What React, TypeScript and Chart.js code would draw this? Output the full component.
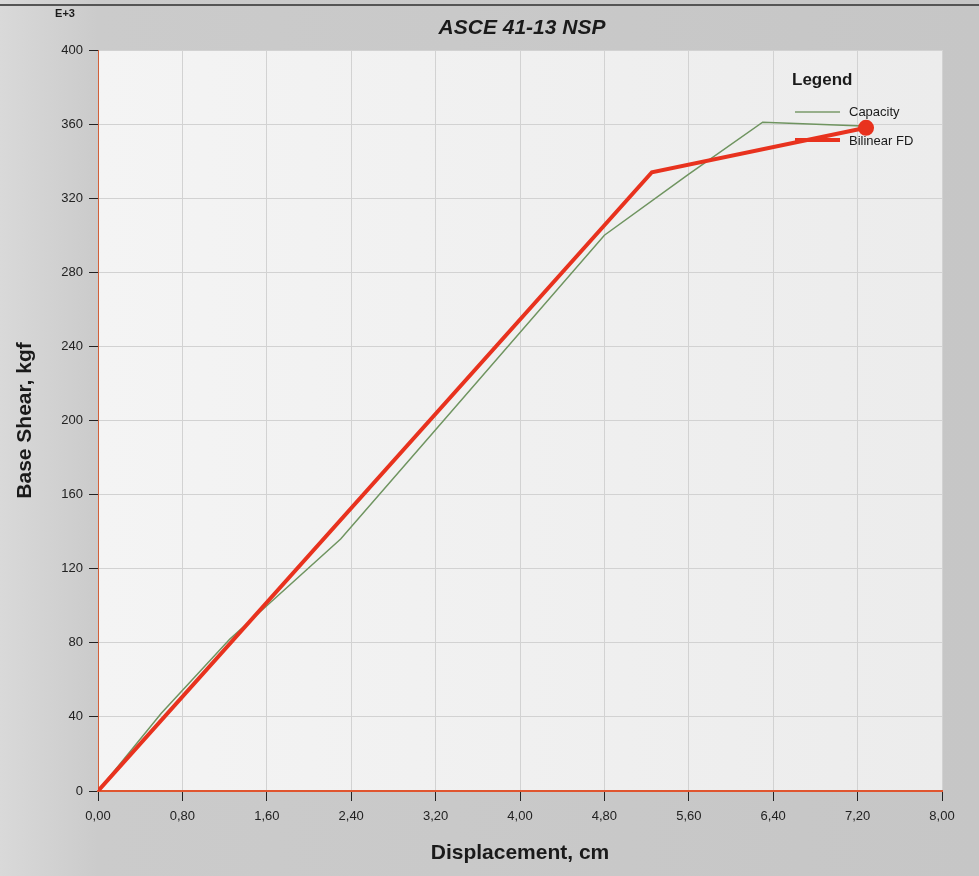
import React, { useEffect, useRef } from "react";
import { Chart, registerables } from "chart.js";

Chart.register(...registerables);

const chartTitle = "ASCE 41-13 NSP";
const xAxisTitle = "Displacement, cm";
const yAxisTitle = "Base Shear, kgf";
const yExponent = "E+3";
const seriesNames = ["Capacity", "Bilinear FD"];

const capacityX = [0, 0.6, 1.25, 1.6, 2.3, 3.2, 4.8, 5.6, 6.3, 7.25];
const capacityY = [0, 42, 82, 100, 136, 195, 300, 333, 361, 359];

const bilinearX = [0, 5.25, 7.28];
const bilinearY = [0, 334, 358];

const xMin = 0;
const xMax = 8;
const xStep = 0.8;
const yMin = 0;
const yMax = 400;
const yStep = 40;

const FONT = "'Liberation Sans', Arial, sans-serif";

const decorPlugin = {
  id: "decor",
  beforeDraw(chart: any) {
    const { ctx, chartArea, width, height } = chart;
    ctx.save();
    const g = ctx.createLinearGradient(0, 0, width, 0);
    g.addColorStop(0, "#d9d9d9");
    g.addColorStop(0.1, "#cbcbcb");
    g.addColorStop(1, "#c6c6c6");
    ctx.fillStyle = g;
    ctx.fillRect(0, 0, width, height);
    ctx.fillStyle = "#555";
    ctx.fillRect(0, 4, width, 2);
    const pg = ctx.createLinearGradient(chartArea.left, 0, chartArea.right, 0);
    pg.addColorStop(0, "#f4f4f4");
    pg.addColorStop(1, "#ececec");
    ctx.fillStyle = pg;
    ctx.fillRect(chartArea.left, chartArea.top, chartArea.right - chartArea.left, chartArea.bottom - chartArea.top);
    ctx.restore();
  },
  afterDraw(chart: any) {
    const { ctx, chartArea } = chart;
    ctx.save();
    ctx.fillStyle = "#1a1a1a";
    ctx.textBaseline = "middle";
    // title
    ctx.font = `italic bold 21px ${FONT}`;
    ctx.textAlign = "center";
    ctx.fillText(chartTitle, (chartArea.left + chartArea.right) / 2 + 2, 28);
    // exponent
    ctx.font = `bold 11px ${FONT}`;
    ctx.textAlign = "center";
    ctx.fillText(yExponent, 65, 14);
    // axis titles
    ctx.font = `bold 21px ${FONT}`;
    ctx.fillText(xAxisTitle, (chartArea.left + chartArea.right) / 2, 853);
    ctx.save();
    ctx.translate(25, (chartArea.top + chartArea.bottom) / 2);
    ctx.rotate(-Math.PI / 2);
    ctx.fillText(yAxisTitle, 0, 0);
    ctx.restore();
    // legend
    ctx.textAlign = "left";
    ctx.font = `bold 17px ${FONT}`;
    ctx.fillText("Legend", 792, 80);
    ctx.font = `13px ${FONT}`;
    ctx.strokeStyle = "#7a9a6a";
    ctx.lineWidth = 1.5;
    ctx.beginPath();
    ctx.moveTo(795, 112);
    ctx.lineTo(840, 112);
    ctx.stroke();
    ctx.fillText(seriesNames[0], 849, 112);
    ctx.strokeStyle = "#e8321e";
    ctx.lineWidth = 4;
    ctx.beginPath();
    ctx.moveTo(795, 140);
    ctx.lineTo(840, 140);
    ctx.stroke();
    ctx.fillText(seriesNames[1], 849, 141);
    ctx.restore();
  },
};

export default function App() {
  const ref = useRef<HTMLCanvasElement>(null);
  useEffect(() => {
    document.body.style.margin = "0";
    const capacity = capacityX.map((x, i) => ({ x, y: capacityY[i] }));
    const bilinear = bilinearX.map((x, i) => ({ x, y: bilinearY[i] }));
    const chart = new Chart(ref.current!, {
      type: "scatter",
      data: {
        datasets: [
          {
            label: seriesNames[1],
            data: bilinear,
            showLine: true,
            borderColor: "#e8321e",
            backgroundColor: "#e8321e",
            borderWidth: 4,
            pointRadius: bilinear.map((_, i) => (i === bilinear.length - 1 ? 6 : 0)),
            order: 1,
          },
          {
            label: seriesNames[0],
            data: capacity,
            showLine: true,
            borderColor: "#6f9460",
            backgroundColor: "#6f9460",
            borderWidth: 1.5,
            pointRadius: 0,
            order: 2,
          },
        ],
      },
      options: {
        animation: false,
        responsive: false,
        layout: { padding: { left: 8, top: 50, right: 37, bottom: 0 } },
        plugins: { legend: { display: false }, title: { display: false }, tooltip: { enabled: false } },
        scales: {
          x: {
            type: "linear",
            min: xMin,
            max: xMax,
            afterFit: (s: any) => {
              s.height = 85;
            },
            ticks: {
              stepSize: xStep,
              padding: 8,
              color: "#222",
              font: { family: FONT, size: 13 },
              callback: (v: any) => Number(v).toFixed(2).replace(".", ","),
            },
            grid: { color: "#d2d2d2", tickColor: "#222", tickLength: 10, lineWidth: 1 },
            border: { color: "#e0552f", width: 2 },
          },
          y: {
            type: "linear",
            min: yMin,
            max: yMax,
            afterFit: (s: any) => {
              s.width = 90;
            },
            ticks: {
              stepSize: yStep,
              padding: 6,
              color: "#222",
              font: { family: FONT, size: 13 },
            },
            grid: { color: "#d2d2d2", tickColor: "#222", tickLength: 9, lineWidth: 1 },
            border: { color: "#d0603a", width: 1 },
          },
        },
      },
      plugins: [decorPlugin],
    } as any);
    return () => chart.destroy();
  }, []);
  return (
    <div style={{ position: "absolute", left: 0, top: 0, width: 979, height: 876 }}>
      <canvas ref={ref} width={979} height={876} style={{ width: 979, height: 876, display: "block" }} />
    </div>
  );
}
